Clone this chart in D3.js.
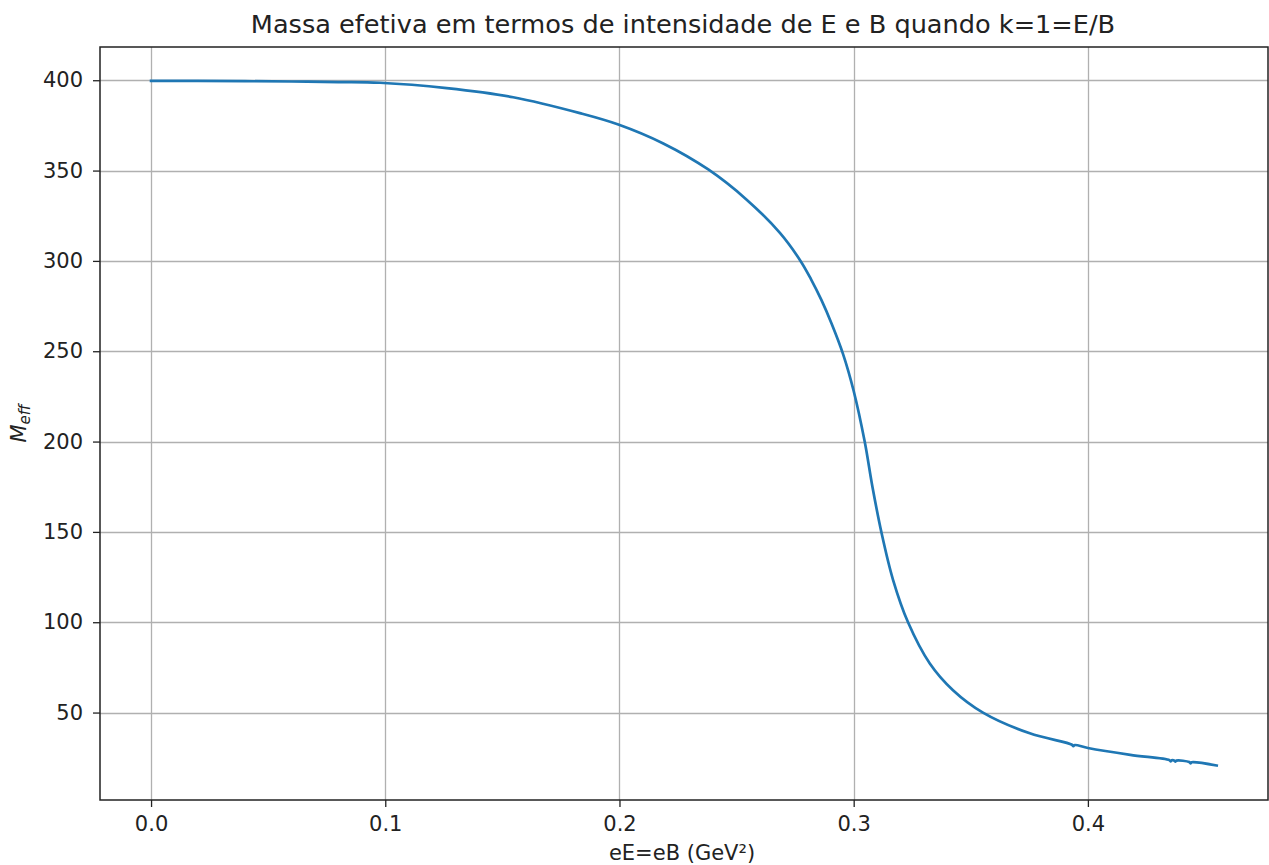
<!DOCTYPE html>
<html>
<head>
<meta charset="utf-8">
<script src="https://cdn.jsdelivr.net/npm/d3@7"></script>
<style>
  html, body { margin: 0; padding: 0; background: #fff; }
  svg { display: block; font-family: "DejaVu Sans", sans-serif; }
</style>
</head>
<body>
<svg id="chart" width="1269" height="865"></svg>
<script>
// Field strength eE = eB (GeV^2)
const fieldStrength = [
  0, 0.02, 0.04, 0.06, 0.08, 0.0977, 0.1262, 0.1546, 0.1831, 0.1995,
  0.2187, 0.2379, 0.2543, 0.2685, 0.2773, 0.2818, 0.2862, 0.2905, 0.2955, 0.3,
  0.3047, 0.308, 0.3118, 0.3168, 0.3232, 0.3325, 0.3424, 0.3552, 0.3752, 0.3932,
  0.3938, 0.3944, 0.4, 0.4181, 0.4348, 0.4353, 0.4358, 0.4368, 0.4373, 0.4378,
  0.4433, 0.4438, 0.4443, 0.455
];
// Effective mass M_eff
const effectiveMass = [
  399.6, 399.6, 399.5, 399.3, 399.0, 398.6, 395.6, 390.6, 381.8, 375.5,
  365.0, 350.6, 333.9, 315.5, 300.0, 289.8, 278.4, 265.5, 248.3, 228.0,
  200.0, 175.0, 150.0, 123.5, 100.0, 77.2, 62.4, 50.0, 38.5, 32.2,
  31.4, 32.0, 30.4, 26.6, 23.7, 23.0, 23.6, 23.5, 22.8, 23.4,
  22.6, 21.9, 22.5, 20.7
];
const xTicks = [0.0, 0.1, 0.2, 0.3, 0.4];
const yTicks = [50, 100, 150, 200, 250, 300, 350, 400];

const titleText = "Massa efetiva em termos de intensidade de E e B quando k=1=E/B";
const xLabelText = "eE=eB (GeV²)";

const plot = { left: 100, top: 47, right: 1268, bottom: 800 };
const svg = d3.select("#chart");

const x = d3.scaleLinear().domain([-0.0218, 0.4769]).range([plot.left, plot.right]);
const y = d3.scaleLinear().domain([1.6, 418.4]).range([plot.bottom, plot.top]);

// grid lines
const grid = svg.append("g").attr("stroke", "#b0b0b0").attr("stroke-width", 1.3);
grid.selectAll("line.gx").data(xTicks).join("line")
  .attr("x1", d => Math.round(x(d)) + 0.5).attr("x2", d => Math.round(x(d)) + 0.5)
  .attr("y1", plot.top).attr("y2", plot.bottom);
grid.selectAll("line.gy").data(yTicks).join("line")
  .attr("y1", d => Math.round(y(d)) + 0.5).attr("y2", d => Math.round(y(d)) + 0.5)
  .attr("x1", plot.left).attr("x2", plot.right);

// data line
const line = d3.line()
  .x((d, i) => x(fieldStrength[i]))
  .y(d => y(d))
  .curve(d3.curveCatmullRom.alpha(0.5));
svg.append("path")
  .datum(effectiveMass)
  .attr("d", line)
  .attr("fill", "none")
  .attr("stroke", "#1f77b4")
  .attr("stroke-width", 2.7)
  .attr("stroke-linejoin", "round")
  .attr("stroke-linecap", "square");

// axes
const xAxis = d3.axisBottom(x).tickValues(xTicks).tickFormat(d3.format(".1f"))
  .tickSize(7).tickPadding(9);
const yAxis = d3.axisLeft(y).tickValues(yTicks).tickFormat(d3.format("d"))
  .tickSize(7).tickPadding(10);

const gx = svg.append("g").attr("transform", `translate(0,${plot.bottom})`).call(xAxis);
const gy = svg.append("g").attr("transform", `translate(${plot.left},0)`).call(yAxis);
[gx, gy].forEach(g => {
  g.select(".domain").remove();
  g.selectAll(".tick line").attr("stroke", "#222").attr("stroke-width", 1.3);
  g.selectAll(".tick text").attr("fill", "#222").style("font-size", "21px")
    .style("font-family", "'DejaVu Sans', sans-serif");
});

// frame
svg.append("rect")
  .attr("x", plot.left).attr("y", plot.top)
  .attr("width", plot.right - plot.left).attr("height", plot.bottom - plot.top)
  .attr("fill", "none").attr("stroke", "#222").attr("stroke-width", 1.5);

// title
svg.append("text")
  .attr("x", 683).attr("y", 33)
  .attr("text-anchor", "middle").attr("fill", "#222")
  .style("font-size", "25.6px")
  .text(titleText);

// x label
svg.append("text")
  .attr("x", 682).attr("y", 860)
  .attr("text-anchor", "middle").attr("fill", "#222")
  .style("font-size", "21px")
  .text(xLabelText);

// y label: italic M with subscript eff
const yl = svg.append("text")
  .attr("transform", `translate(26,${(plot.top + plot.bottom) / 2}) rotate(-90)`)
  .attr("text-anchor", "middle").attr("fill", "#222")
  .style("font-style", "italic");
yl.append("tspan").style("font-size", "21px").text("M");
yl.append("tspan").style("font-size", "15px").attr("dy", 4).text("eff");
</script>
</body>
</html>
